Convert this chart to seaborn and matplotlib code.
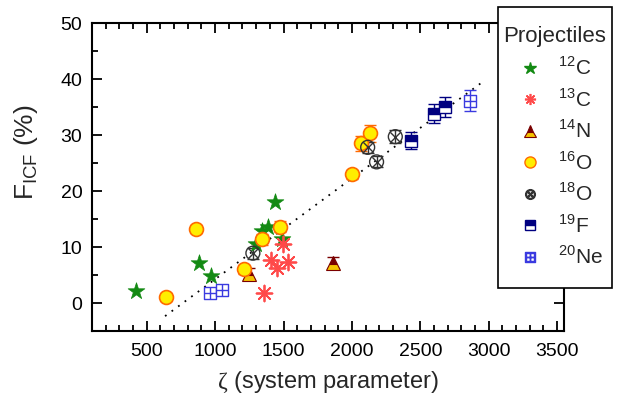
import numpy as np
import pandas as pd
import matplotlib
matplotlib.use("Agg")
import matplotlib.pyplot as plt
from matplotlib.lines import Line2D
import seaborn as sns

# ---- data ----
C12_X = [425, 883, 971, 1297, 1341, 1390, 1434, 1488]
C12_Y = [2.2, 7.2, 4.8, 10.6, 12.9, 13.6, 18.0, 11.5]

C13_X = [1359, 1405, 1455, 1493, 1530]
C13_Y = [1.7, 7.7, 6.3, 10.5, 7.4]

N14_X = [1249, 1861]
N14_Y = [5.2, 7.2]
N14_ERR = [1.0, 1.0]

O16_X = [642, 861, 1212, 1344, 1477, 2002, 2068, 2134]
O16_Y = [1.1, 13.2, 6.0, 11.4, 13.6, 23.0, 28.5, 30.3]
O16_ERR = [0.7, 0.7, 0.8, 1.0, 1.0, 0.8, 1.3, 1.5]

O18_X = [1276, 2115, 2180, 2317]
O18_Y = [8.9, 27.8, 25.2, 29.7]
O18_ERR = [1.0, 1.0, 1.0, 1.2]

F19_X = [2434, 2597, 2678]
F19_Y = [29.0, 33.8, 35.0]
F19_ERR = [1.45, 1.65, 1.8]

NE20_X = [959, 1049, 2866]
NE20_Y = [1.75, 2.35, 36.1]
NE20_ERR = [0.5, 0.5, 1.9]

# dotted linear trend
FIT_SLOPE = 0.01802
FIT_INTERCEPT = -13.77
FIT_XRANGE = [634, 2950]

LABELS = [r"$^{\mathregular{12}}$C", r"$^{\mathregular{13}}$C", r"$^{\mathregular{14}}$N",
          r"$^{\mathregular{16}}$O", r"$^{\mathregular{18}}$O", r"$^{\mathregular{19}}$F",
          r"$^{\mathregular{20}}$Ne"]

sns.set_theme(style="ticks")
plt.rcParams["font.family"] = ["Liberation Sans", "DejaVu Sans"]
plt.rcParams["mathtext.fontset"] = "custom"
plt.rcParams["mathtext.rm"] = "Liberation Sans"
plt.rcParams["mathtext.sf"] = "Liberation Serif"

GREEN = "#138a13"
RED = "#ff4a4a"
MAROON = "#7a0000"
GOLD = "#f5c400"
YELLOW = "#ffee00"
ORANGE = "#ff6a00"
GREY = "#333333"
NAVY = "#000080"
BLUE = "#3a3ae0"

fig = plt.figure(figsize=(6.18, 4.03), dpi=100)
ax = fig.add_axes([92 / 618, 1 - 331 / 403, (564 - 92) / 618, (331 - 23) / 403])

# trend line
fx = np.array(FIT_XRANGE, dtype=float)
ax.plot(fx, FIT_SLOPE * fx + FIT_INTERCEPT, color="black", lw=1.3,
        linestyle=(0, (1, 3.5)), zorder=1)

# simple markers through seaborn
df12 = pd.DataFrame({"x": C12_X, "y": C12_Y})
sns.scatterplot(data=df12, x="x", y="y", ax=ax, marker="*", s=160,
                color=GREEN, edgecolor=GREEN, linewidth=0.5, zorder=3, legend=False)
df13 = pd.DataFrame({"x": C13_X, "y": C13_Y})
sns.scatterplot(data=df13, x="x", y="y", ax=ax, marker=(8, 2, 0), s=130,
                color=RED, linewidth=1.3, zorder=3, legend=False)

# error-bar groups
ax.errorbar(N14_X, N14_Y, yerr=N14_ERR, fmt="none", ecolor=MAROON, elinewidth=1,
            capsize=4, capthick=1, zorder=2)
ax.plot(N14_X, N14_Y, linestyle="none", marker="^", ms=10, fillstyle="top",
        markerfacecolor=MAROON, markerfacecoloralt=GOLD, markeredgecolor=MAROON,
        markeredgewidth=0.8, zorder=3)

df16 = pd.DataFrame({"x": O16_X, "y": O16_Y})
ax.errorbar(O16_X, O16_Y, yerr=O16_ERR, fmt="none", ecolor=ORANGE, elinewidth=1,
            capsize=4, capthick=1, zorder=2)
sns.scatterplot(data=df16, x="x", y="y", ax=ax, marker="o", s=100,
                color=YELLOW, edgecolor=ORANGE, linewidth=1.2, zorder=3, legend=False)

df18 = pd.DataFrame({"x": O18_X, "y": O18_Y})
ax.errorbar(O18_X, O18_Y, yerr=O18_ERR, fmt="none", ecolor=GREY, elinewidth=1,
            capsize=4, capthick=1, zorder=2)
sns.scatterplot(data=df18, x="x", y="y", ax=ax, marker="o", s=100,
                facecolor="none", edgecolor=GREY, linewidth=1.0, zorder=3, legend=False)
sns.scatterplot(data=df18, x="x", y="y", ax=ax, marker="x", s=55,
                color=GREY, linewidth=1.0, zorder=3, legend=False)

ax.errorbar(F19_X, F19_Y, yerr=F19_ERR, fmt="none", ecolor=NAVY, elinewidth=1,
            capsize=4, capthick=1, zorder=2)
ax.plot(F19_X, F19_Y, linestyle="none", marker="s", ms=8, fillstyle="top",
        markerfacecolor=NAVY, markerfacecoloralt="white", markeredgecolor=NAVY,
        markeredgewidth=1.0, zorder=3)

dfne = pd.DataFrame({"x": NE20_X, "y": NE20_Y})
ax.errorbar(NE20_X, NE20_Y, yerr=NE20_ERR, fmt="none", ecolor=BLUE, elinewidth=1,
            capsize=4, capthick=1, zorder=2)
sns.scatterplot(data=dfne, x="x", y="y", ax=ax, marker="s", s=70,
                facecolor="white", edgecolor=BLUE, linewidth=1.0, zorder=3, legend=False)
sns.scatterplot(data=dfne, x="x", y="y", ax=ax, marker="+", s=70,
                color=BLUE, linewidth=1.0, zorder=4, legend=False)

# axes styling
ax.set_xlim(100, 3550)
ax.set_ylim(-5, 50)
ax.set_xticks([500, 1000, 1500, 2000, 2500, 3000, 3500])
ax.set_xticks(np.arange(200, 3550, 100), minor=True)
ax.set_yticks([0, 10, 20, 30, 40, 50])
ax.set_yticks(np.arange(-5, 50, 5), minor=True)
ax.tick_params(which="both", direction="in", top=True, right=True, width=1.3,
               labelsize=14, colors="black")
ax.tick_params(which="major", length=7)
ax.tick_params(which="minor", length=4)
ax.tick_params(axis="x", pad=9)
ax.tick_params(axis="y", pad=7)
for sp in ax.spines.values():
    sp.set_linewidth(1.5)
    sp.set_color("black")

ax.set_xlabel(r"$\mathsf{\zeta}$ (system parameter)", fontsize=17, labelpad=6)
ax.set_ylabel(r"F$_{\mathregular{ICF}}$ (%)", fontsize=19)
ax.yaxis.set_label_coords(-0.11, 0.58)

# legend
handles = [
    Line2D([], [], ls="none", marker="*", ms=9, color=GREEN),
    Line2D([], [], ls="none", marker=(8, 2, 0), ms=8, color=RED, mew=1.2),
    Line2D([], [], ls="none", marker="^", ms=8, fillstyle="top", markerfacecolor=MAROON,
           markerfacecoloralt=GOLD, markeredgecolor=MAROON, mew=0.8),
    Line2D([], [], ls="none", marker="o", ms=8, markerfacecolor=YELLOW,
           markeredgecolor=ORANGE, mew=1.0),
    Line2D([], [], ls="none", marker="$\u2297$", ms=7, color=GREY),
    Line2D([], [], ls="none", marker="s", ms=7, fillstyle="top", markerfacecolor=NAVY,
           markerfacecoloralt="white", markeredgecolor=NAVY, mew=1.0),
    Line2D([], [], ls="none", marker="$\u229e$", ms=7, color=BLUE),
]
leg = fig.legend(handles, LABELS, loc="upper left",
                 bbox_to_anchor=(498 / 618, 1 - 7 / 403, 114 / 618, 0.0),
                 bbox_transform=fig.transFigure, mode="expand", borderaxespad=0,
                 frameon=True, fancybox=False, framealpha=1, edgecolor="black",
                 title="Projectiles", fontsize=15, title_fontsize=16,
                 handlelength=1.22, handletextpad=0.73, labelspacing=0.43,
                 borderpad=0.93)
leg.get_frame().set_linewidth(1.2)

fig.savefig("out.png", dpi=100)
